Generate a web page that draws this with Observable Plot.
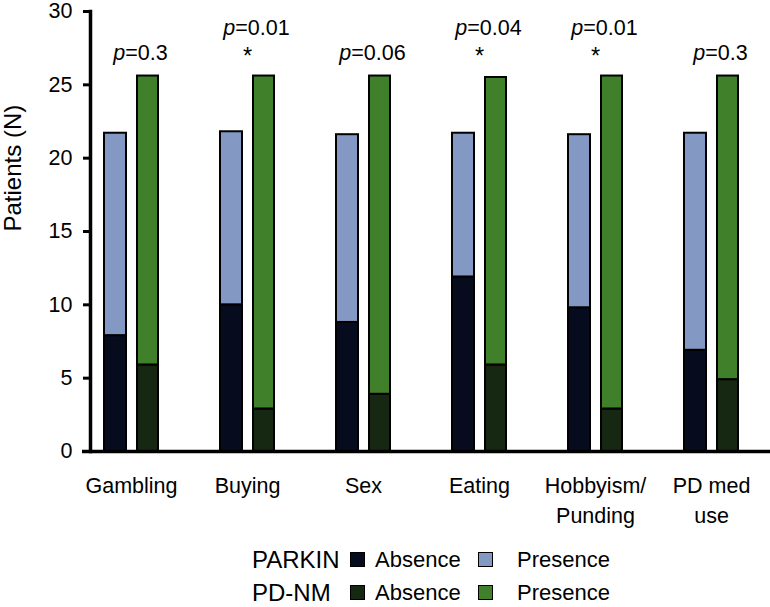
<!DOCTYPE html>
<html>
<head>
<meta charset="utf-8">
<script src="https://cdn.jsdelivr.net/npm/d3@7"></script>
<script src="https://cdn.jsdelivr.net/npm/@observablehq/plot@0.6"></script>
<style>
  html, body { margin: 0; padding: 0; overflow: hidden; }
  #chart { width: 770px; height: 530px; overflow: hidden; }
  #legend { position: relative; width: 770px; height: 76px; font-family: "Liberation Sans", Arial, Helvetica, sans-serif; color: #000; }
  #legend .lab { position: absolute; line-height: 1; white-space: nowrap; }
  #legend .sw { position: absolute; width: 13px; height: 13px; border: 1.5px solid #000; }
</style>
</head>
<body>
<div id="chart"></div>
<div id="legend"></div>
<script>
// ---- data ----
const categories = ["Gambling", "Buying", "Sex", "Eating", "Hobbyism/\nPunding", "PD med\nuse"];
const parkinAbsence  = [7.9, 10, 8.8, 11.9, 9.8, 6.9];
const parkinPresence = [13.8, 11.8, 12.8, 9.8, 11.8, 14.8];
const pdnmAbsence    = [5.9, 2.9, 3.9, 5.9, 2.9, 4.9];
const pdnmPresence   = [19.7, 22.7, 21.7, 19.6, 22.7, 20.7];
const pValues        = ["0.3", "0.01", "0.06", "0.04", "0.01", "0.3"];
const significant    = [false, true, false, true, true, false];
const groups   = ["PARKIN", "PD-NM"];
const statuses = ["Absence", "Presence"];
const yTicks   = [0, 5, 10, 15, 20, 25, 30];
const yTitle   = "Patients (N)";

const colorKeys   = ["PARKIN Absence", "PARKIN Presence", "PD-NM Absence", "PD-NM Presence"];
const colorValues = ["#070b1e", "#8399c4", "#162811", "#41802a"];

// ---- build table ----
const rows = [];
categories.forEach((c, i) => {
  rows.push({category: c, group: "PARKIN", status: "Absence",  value: parkinAbsence[i]});
  rows.push({category: c, group: "PARKIN", status: "Presence", value: parkinPresence[i]});
  rows.push({category: c, group: "PD-NM",  status: "Absence",  value: pdnmAbsence[i]});
  rows.push({category: c, group: "PD-NM",  status: "Presence", value: pdnmPresence[i]});
});
rows.forEach(r => r.key = r.group + " " + r.status);
const pRows = categories.map((c, i) => ({category: c, p: "p=" + pValues[i], sig: significant[i]}));

const font = 21.5;
const ink = "#000";
const axisW = 3.5;

const plot = Plot.plot({
  width: 770,
  height: 530,
  marginTop: 11,
  marginBottom: 79,
  marginLeft: 90,
  marginRight: 0,
  style: "font-family: 'Liberation Sans', Arial, Helvetica, sans-serif; color: #000;",
  x: {domain: categories, range: [71.5, 771], padding: 0, axis: null},
  y: {domain: [0, 30], axis: null},
  color: {domain: colorKeys, range: colorValues},
  marks: [
    Plot.barY(rows.filter(d => d.group === "PARKIN"),
      Plot.stackY({x: "category", y: "value", fill: "key", insetLeft: 31, insetRight: 63, stroke: ink, strokeWidth: 2})),
    Plot.barY(rows.filter(d => d.group === "PD-NM"),
      Plot.stackY({x: "category", y: "value", fill: "key", insetLeft: 64, insetRight: 31, stroke: ink, strokeWidth: 2})),
    Plot.text(categories, {x: d => d, frameAnchor: "bottom", lineAnchor: "top", dy: 21, fill: ink, fontSize: font, lineHeight: 1.36}),
    Plot.text(pRows.filter(d => !d.sig), {x: "category", text: "p", frameAnchor: "top", lineAnchor: "bottom", dy: 48, dx: 9, fill: ink, fontSize: font}),
    Plot.text(pRows.filter(d => d.sig), {x: "category", text: "p", frameAnchor: "top", lineAnchor: "bottom", dy: 23, dx: 9, fill: ink, fontSize: font}),
    Plot.text(pRows.filter(d => d.sig), {x: "category", text: () => "*", frameAnchor: "top", lineAnchor: "bottom", dy: 52, fill: ink, fontSize: font + 2}),
    Plot.text([yTitle], {frameAnchor: "left", rotate: -90, dx: -77, fill: ink, fontSize: 24}),
    Plot.axisY(yTicks, {anchor: "left", tickSize: 7, tickPadding: 11, stroke: ink, strokeWidth: 3, fontSize: font, label: null}),
    Plot.frame({anchor: "left", stroke: ink, strokeWidth: axisW}),
    Plot.ruleY([0], {stroke: ink, strokeWidth: axisW, insetLeft: -8})
  ]
});

// italic "p" in the p-value labels
plot.querySelectorAll("text").forEach(t => {
  const s = t.textContent;
  if (/^p=/.test(s) && t.children.length === 0) {
    t.textContent = "";
    const ns = "http://www.w3.org/2000/svg";
    const a = document.createElementNS(ns, "tspan");
    a.setAttribute("font-style", "italic");
    a.textContent = "p";
    const b = document.createElementNS(ns, "tspan");
    b.textContent = s.slice(1);
    t.appendChild(a); t.appendChild(b);
  }
});
document.getElementById("chart").appendChild(plot);

// ---- legend ----
const legend = document.getElementById("legend");
const rowY = [30, 63];
groups.forEach((g, gi) => {
  const y = rowY[gi];
  const lab = document.createElement("div");
  lab.className = "lab"; lab.textContent = g;
  lab.style.left = "252px"; lab.style.top = (y - 12) + "px"; lab.style.fontSize = "24px";
  legend.appendChild(lab);
  statuses.forEach((s, si) => {
    const sw = document.createElement("div");
    sw.className = "sw";
    sw.style.left = (si === 0 ? 350 : 478) + "px";
    sw.style.top = (y - 8) + "px";
    sw.style.background = colorValues[colorKeys.indexOf(g + " " + s)];
    legend.appendChild(sw);
    const t = document.createElement("div");
    t.className = "lab"; t.textContent = s;
    t.style.left = (si === 0 ? 375 : 517) + "px"; t.style.top = (y - 11) + "px"; t.style.fontSize = "22px";
    legend.appendChild(t);
  });
});
</script>
</body>
</html>
